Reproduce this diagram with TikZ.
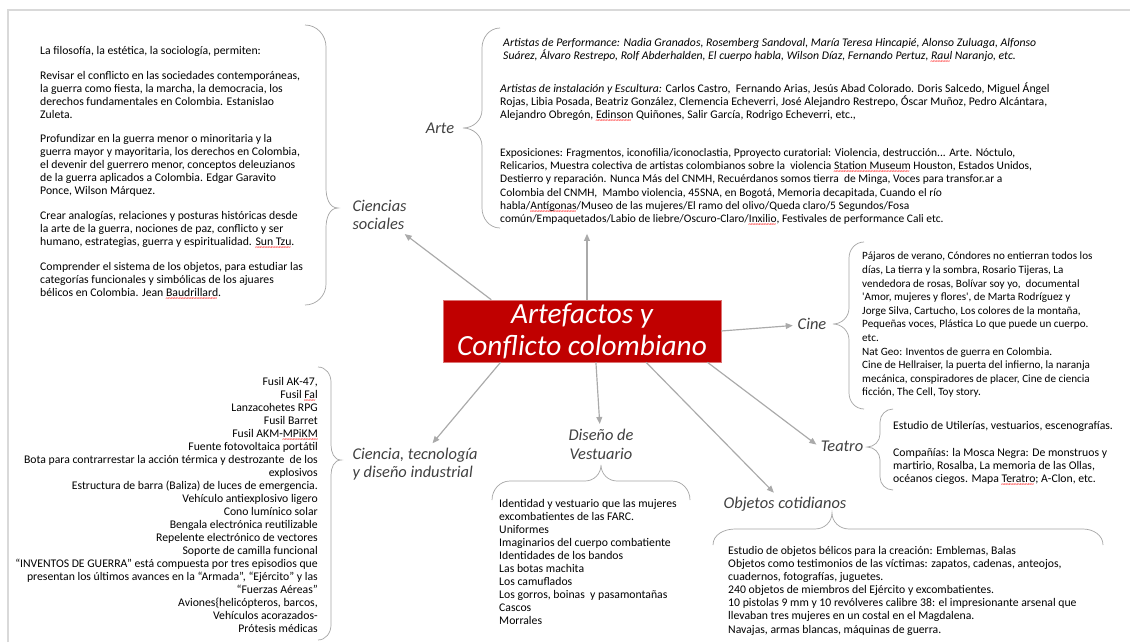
\documentclass[tikz,border=0pt]{standalone}
\usepackage{fontspec}
\setmainfont{Carlito}
\usepackage{xcolor}
\usepackage{tikz}
\usetikzlibrary{arrows.meta}

\definecolor{rojoart}{RGB}{192,0,0}
\definecolor{gristexto}{RGB}{64,64,64}
\definecolor{grisflecha}{RGB}{170,170,170}
\definecolor{grisllave}{RGB}{165,165,165}
\definecolor{grismarco}{RGB}{217,217,217}

% subrayado ondulado del corrector
\newsavebox{\ondabox}
\newcommand{\ondita}[1]{\sbox\ondabox{#1}\rlap{\color{red}\raisebox{-3.4pt}[0pt][0pt]{\hbox to\wd\ondabox{\fontsize{6}{6}\selectfont\leaders\hbox{\kern-0.35pt\char`\~\kern-0.35pt}\hfil}}}\usebox\ondabox}

\begin{document}
\begin{tikzpicture}[x=0.03cm, y=-0.03cm,
    centro/.style={fill=rojoart, draw=rojoart!55!white, text=white, align=center, inner sep=0pt,
        minimum width=8.34cm, minimum height=1.86cm, font=\fontsize{25}{27}\selectfont\itshape},
    etiqueta/.style={font=\fontsize{14}{16}\selectfont\itshape, text=gristexto, inner sep=2pt},
    texto/.style={font=\fontsize{10}{11.1}\selectfont, inner sep=0pt, align=left, anchor=north west},
    flecha/.style={draw=grisflecha, line width=1pt, -{Triangle[length=6pt,width=5pt]}, shorten >=2pt},
    llave/.style={draw=grisllave, line width=0.6pt}]

        % Fondo y marco
        \fill[white] (0,0) rectangle (1130,642);
        \useasboundingbox (0,0) rectangle (1130,642);
        \draw[grismarco, line width=1.6pt] (8,642) -- (8,10) -- (1130,10);

        % Nodo central
        \node[centro] (art) at (582,331) {Artefactos y\\Conflicto colombiano};

        % Ramas
        \node[etiqueta, anchor=west, align=left] (cs) at (350,215) {Ciencias\\sociales};
        \node[etiqueta] (arte) at (440,128) {Arte};
        \node[etiqueta] (cine) at (812,324) {Cine};
        \node[etiqueta] (teatro) at (842,446) {Teatro};
        \node[etiqueta] (obj) at (785,504) {Objetos cotidianos};
        \node[etiqueta, align=center] (dis) at (601,444) {Diseño de\\Vestuario};
        \node[etiqueta, anchor=west, align=left] (cti) at (350,464) {Ciencia, tecnología\\y diseño industrial};

        % Textos
        \node[texto] (txtcs) at (40,46) {La filosofía, la estética, la sociología, permiten:\\[10pt]
            Revisar el conflicto en las sociedades contemporáneas,\\
            la guerra como fiesta, la marcha, la democracia, los\\
            derechos fundamentales en Colombia. Estanislao\\
            Zuleta.\\[10pt]
            Profundizar en la guerra menor o minoritaria y la\\
            guerra mayor y mayoritaria, los derechos en Colombia,\\
            el devenir del guerrero menor, conceptos deleuzianos\\
            de la guerra aplicados a Colombia. Edgar Garavito\\
            Ponce, Wilson Márquez.\\[10pt]
            Crear analogías, relaciones y posturas históricas desde\\
            la arte de la guerra, nociones de paz, conflicto y ser\\
            humano, estrategias, guerra y espiritualidad. \ondita{Sun Tzu}.\\[10pt]
            Comprender el sistema de los objetos, para estudiar las\\
            categorías funcionales y simbólicas de los ajuares\\
            bélicos en Colombia. Jean \ondita{Baudrillard}.};

        \node[texto, font=\fontsize{10}{11.1}\selectfont\itshape] (perf) at (503,38) {Artistas de Performance: Nadia Granados, Rosemberg Sandoval, María Teresa Hincapié, Alonso Zuluaga, Alfonso\\
            Suárez, Álvaro Restrepo, Rolf Abderhalden, El cuerpo habla, Wilson Díaz, Fernando Pertuz, \ondita{Raul} Naranjo, etc.};
        \node[texto] (inst) at (500,82) {\textit{Artistas de instalación y Escultura:} Carlos Castro,\ \ Fernando Arias, Jesús Abad Colorado. Doris Salcedo, Miguel Ángel\\
            Rojas, Libia Posada, Beatriz González, Clemencia Echeverri, José Alejandro Restrepo, Óscar Muñoz, Pedro Alcántara,\\
            Alejandro Obregón, \ondita{Edinson} Quiñones, Salir García, Rodrigo Echeverri, etc.,};
        \node[texto, font=\fontsize{9.8}{11.4}\selectfont] (expo) at (500,148) {Exposiciones: Fragmentos, iconofilia/iconoclastia, Pproyecto curatorial: Violencia, destrucción... Arte. Nóctulo,\\
            Relicarios, Muestra colectiva de artistas colombianos sobre la\ \ violencia \ondita{Station Museum} Houston, Estados Unidos,\\
            Destierro y reparación. Nunca Más del CNMH, Recuérdanos somos tierra\ \ de Minga, Voces para transfor.ar a\\
            Colombia del CNMH,\ \ Mambo violencia, 45SNA, en Bogotá, Memoria decapitada, Cuando el río\\
            habla/\ondita{Antígonas}/Museo de las mujeres/El ramo del olivo/Queda claro/5 Segundos/Fosa\\
            común/Empaquetados/Labio de liebre/Oscuro-Claro/\ondita{Inxilio}, Festivales de performance Cali etc.};

        \node[texto, font=\fontsize{9.5}{11.6}\selectfont] (txtcine) at (862,252) {Pájaros de verano, Cóndores no entierran todos los\\
            días, La tierra y la sombra, Rosario Tijeras, La\\
            vendedora de rosas, Bolívar soy yo,\ \ documental\\
            \textquotesingle Amor, mujeres y flores\textquotesingle, de Marta Rodríguez y\\
            Jorge Silva, Cartucho, Los colores de la montaña,\\
            Pequeñas voces, Plástica Lo que puede un cuerpo.\\
            etc.\\
            Nat Geo: Inventos de guerra en Colombia.\\
            Cine de Hellraiser, la puerta del infierno, la naranja\\
            mecánica, conspiradores de placer, Cine de ciencia\\
            ficción, The Cell, Toy story.};

        \node[texto] (txtteatro) at (893,421) {Estudio de Utilerías, vestuarios, escenografías.\\[12pt]
            Compañías: la Mosca Negra: De monstruos y\\
            martirio, Rosalba, La memoria de las Ollas,\\
            océanos ciegos. Mapa \ondita{Teratro}; A-Clon, etc.};

        \node[texto, anchor=north east, align=right] (txtcti) at (318,377) {Fusil AK-47,\\
            Fusil \ondita{Fal}\\
            Lanzacohetes RPG\\
            Fusil Barret\\
            Fusil AKM-\ondita{MPiKM}\\
            Fuente fotovoltaica portátil\\
            Bota para contrarrestar la acción térmica y destrozante\ \ de los\\
            explosivos\\
            Estructura de barra (Baliza) de luces de emergencia.\\
            Vehículo antiexplosivo ligero\\
            Cono lumínico solar\\
            Bengala electrónica reutilizable\\
            Repelente electrónico de vectores\\
            Soporte de camilla funcional\\
            “INVENTOS DE GUERRA” está compuesta por tres episodios que\\
            presentan los últimos avances en la “Armada”, “Ejército” y las\\
            “Fuerzas Aéreas”\\
            Aviones\{helicópteros, barcos,\\
            Vehículos acorazados-\\
            Prótesis médicas};

        \node[texto] (txtdis) at (499,499) {Identidad y vestuario que las mujeres\\
            excombatientes de las FARC.\\
            Uniformes\\
            Imaginarios del cuerpo combatiente\\
            Identidades de los bandos\\
            Las botas machita\\
            Los camuflados\\
            Los gorros, boinas\ \ y pasamontañas\\
            Cascos\\
            Morrales};

        \node[texto, font=\fontsize{10}{11.2}\selectfont] (txtobj) at (728,546) {Estudio de objetos bélicos para la creación: Emblemas, Balas\\
            Objetos como testimonios de las víctimas: zapatos, cadenas, anteojos,\\
            cuadernos, fotografías, juguetes.\\
            240 objetos de miembros del Ejército y excombatientes.\\
            10 pistolas 9 mm y 10 revólveres calibre 38: el impresionante arsenal que\\
            llevaban tres mujeres en un costal en el Magdalena.\\
            Navajas, armas blancas, máquinas de guerra.};

        % Llaves
        \draw[llave] (305,25) to[out=0,in=90] (326,47) -- (326,188) to[out=270,in=180] (338,208)
            to[out=180,in=90] (326,228) -- (326,284) to[out=270,in=0] (305,305);
        \draw[llave] (500,28) to[out=180,in=90] (482,48) -- (482,110) to[out=270,in=0] (463,128)
            to[out=0,in=90] (482,146) -- (482,208) to[out=270,in=180] (500,228);
        \draw[llave] (864,242) to[out=180,in=90] (849,258) -- (849,308) to[out=270,in=0] (833,324)
            to[out=0,in=90] (849,340) -- (849,393) to[out=270,in=180] (864,409);
        \draw[llave] (893,409) to[out=180,in=90] (880,422) -- (880,434) to[out=270,in=0] (867,447)
            to[out=0,in=90] (880,460) -- (880,477) to[out=270,in=180] (893,490);
        \draw[llave] (492,500) to[out=90,in=180] (510,481) -- (585,481) to[out=0,in=270] (601,465)
            to[out=270,in=180] (617,481) -- (672,481) to[out=0,in=90] (690,500);
        \draw[llave] (713,545) to[out=90,in=180] (735,529) -- (815,529) to[out=0,in=270] (832,513)
            to[out=270,in=180] (849,529) -- (1083,529) to[out=0,in=90] (1103,545);
        \draw[llave] (318,367) to[out=0,in=90] (331,382) -- (331,445) to[out=270,in=180] (341,460)
            to[out=180,in=90] (331,475) -- (331,625) to[out=270,in=0] (318,640);

        % Flechas
        \path ([xshift=1.5mm]art.north) coordinate (salida);
        \draw[flecha] (art.161) -- (cs);
        \draw[flecha, shorten >=7.5pt] (salida) -- (salida |- expo.south);
        \draw[flecha] (art.east) -- (cine);
        \draw[flecha] (art.-14) -- (teatro.west);
        \draw[flecha] (art.-26) -- (obj);
        \draw[flecha] (art.-66) -- (dis);
        \draw[flecha] (art.201) -- (cti);

    \end{tikzpicture}
\end{document}
